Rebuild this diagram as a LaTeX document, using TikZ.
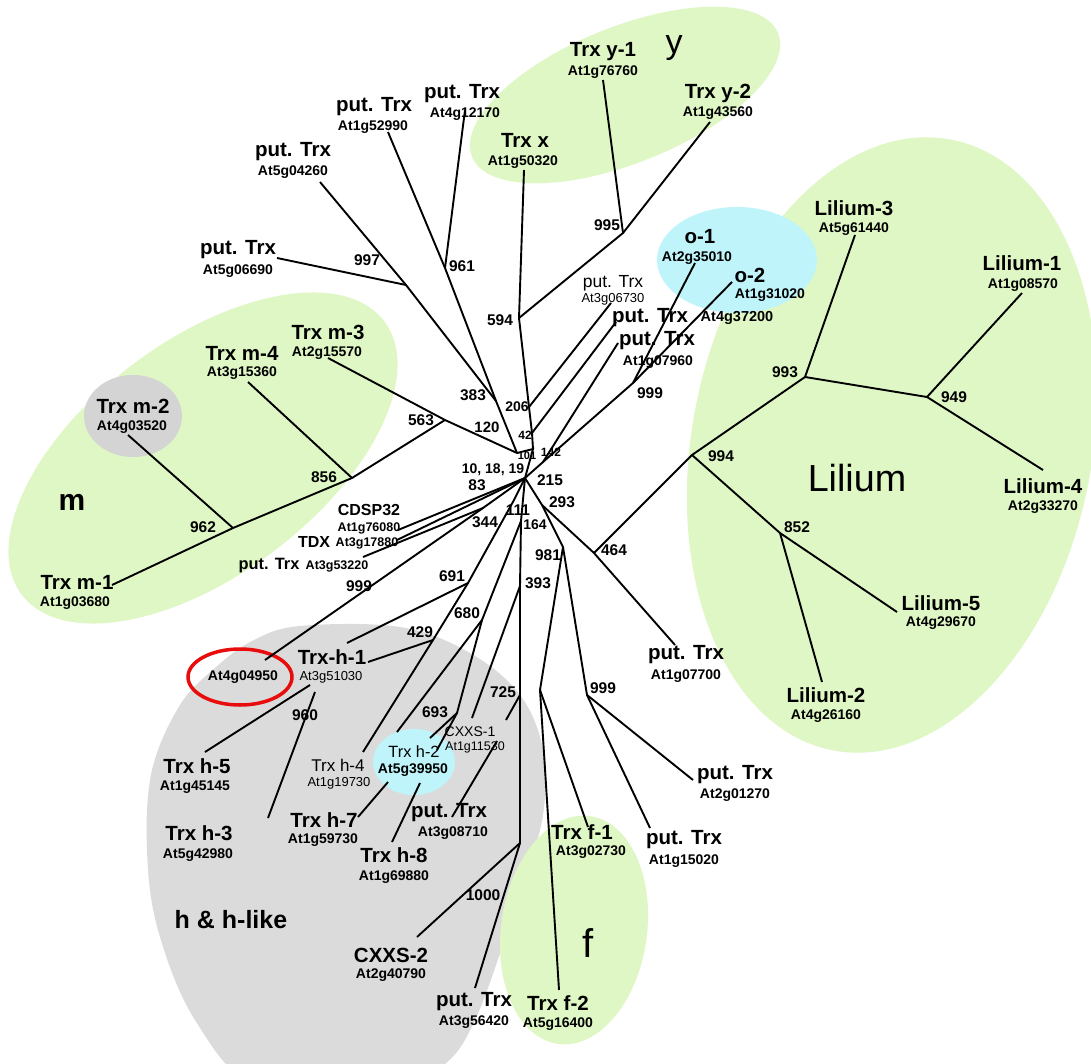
\documentclass[tikz,border=0pt]{standalone}
\usepackage{fontspec}
\setmainfont{Liberation Sans}
\begin{document}
\begin{tikzpicture}[x=1pt,y=-1pt]
\definecolor{lgreen}{RGB}{223,247,196}
\definecolor{lcyan}{RGB}{190,244,250}
\definecolor{lgray}{RGB}{219,219,219}
\definecolor{mgray}{RGB}{212,212,212}
\definecolor{redc}{RGB}{232,12,12}
\tikzset{
 br/.style={line width=1.9pt},
 nm/.style={inner sep=0pt, font=\bfseries\fontsize{20.5}{22}\selectfont},
 nmr/.style={inner sep=0pt, font=\fontsize{17}{19}\selectfont},
 ac/.style={inner sep=0pt, font=\bfseries\fontsize{14}{16}\selectfont},
 acr/.style={inner sep=0pt, font=\fontsize{13}{15}\selectfont},
 bs/.style={inner sep=0pt, font=\bfseries\fontsize{15.5}{17}\selectfont},
 bss/.style={inner sep=0pt, font=\bfseries\fontsize{13}{15}\selectfont},
}
\useasboundingbox (0,0) rectangle (1091,1064);
\clip (0,0) rectangle (1091,1064);
\fill[white] (0,0) rectangle (1091,1064);
% ---- background groups
\fill[lgray] plot[smooth cycle, tension=0.6] coordinates {(300,626) (400,627) (470,653) (520,695) (543,750) (543,815) (523,885) (503,945) (475,1020) (445,1064) (380,1100) (260,1090) (195,1020) (158,930) (147,850) (152,770) (180,705) (215,668) (252,641)};
\fill[lgreen, shift={(574,930)}, rotate=-8] (0,0) ellipse [x radius=73, y radius=115];
\fill[lgreen, shift={(625,95)}, rotate=22] (0,0) ellipse [x radius=165, y radius=68];
\fill[lgreen, shift={(892,445)}, rotate=-11] (0,0) ellipse [x radius=200, y radius=311];
\fill[lcyan] (737,260) ellipse [x radius=80, y radius=53];
\fill[lgreen, shift={(203,458)}, rotate=37] (0,0) ellipse [x radius=227, y radius=117];
\fill[mgray] (133,416) ellipse [x radius=49, y radius=41];
\fill[lcyan] (414,762) ellipse [x radius=41, y radius=33];
\draw[redc, line width=3.5pt] (240,677) ellipse [x radius=52, y radius=28];

% ---- group labels
\node[inner sep=0pt, font=\fontsize{34}{36}\selectfont] (gy) at (674,48) {y};
\node[inner sep=0pt, font=\bfseries\fontsize{30}{32}\selectfont] (gm) at (72,502) {m};
\node[inner sep=0pt, font=\fontsize{37.7}{40}\selectfont] (gl) at (857,478) {Lilium};
\node[inner sep=0pt, font=\fontsize{40}{42}\selectfont] (gf) at (588,943) {f};
\node[inner sep=0pt, font=\bfseries\fontsize{25}{27}\selectfont] (gh) at (231,920) {h \& h-like};

% ---- leaf labels
\node[nm] (a1) at (374,107) {put. Trx}; \node[ac] (a1a) at (373,127) {At1g52990};
\node[nm] (a2) at (462,94) {put. Trx}; \node[ac] (a2a) at (465,114) {At4g12170};
\node[nm] (a3) at (293,152) {put. Trx}; \node[ac] (a3a) at (293,172) {At5g04260};
\node[nm] (a4) at (238,250) {put. Trx}; \node[ac] (a4a) at (238,271) {At5g06690};
\node[nm] (lx) at (525,140) {Trx x}; \node[ac] (lxa) at (523,162) {At1g50320};
\node[nm] (ly1) at (603,52) {Trx y-1}; \node[ac] (ly1a) at (603,72) {At1g76760};
\node[nm] (ly2) at (718,93) {Trx y-2}; \node[ac] (ly2a) at (718,113) {At1g43560};
\node[nm] (lo1) at (700,237) {o-1}; \node[ac] (lo1a) at (697,258) {At2g35010};
\node[nm] (lo2) at (750,275) {o-2}; \node[ac] (lo2a) at (770,295) {At1g31020};
\node[inner sep=0pt, font=\fontsize{17.5}{19}\selectfont] (a5) at (613,283) {put. Trx};
\node[acr] (a5a) at (613,299) {At3g06730};
\node[nm] (a6) at (650,318) {put. Trx}; \node[ac, font=\bfseries\fontsize{14.5}{16}\selectfont] (a6a) at (737,318) {At4g37200};
\node[nm] (a7) at (657,341) {put. Trx}; \node[ac] (a7a) at (658,362) {At1g07960};
\node[nm] (ll3) at (854,208) {Lilium-3}; \node[ac] (ll3a) at (854,229) {At5g61440};
\node[nm] (ll1) at (1022,263) {Lilium-1}; \node[ac] (ll1a) at (1023,285) {At1g08570};
\node[nm] (ll4) at (1043,486) {Lilium-4}; \node[ac] (ll4a) at (1043,507) {At2g33270};
\node[nm] (ll5) at (941,603) {Lilium-5}; \node[ac] (ll5a) at (941,623) {At4g29670};
\node[nm] (ll2) at (826,695) {Lilium-2}; \node[ac] (ll2a) at (826,716) {At4g26160};
\node[nm] (a8) at (686,655) {put. Trx}; \node[ac] (a8a) at (686,676) {At1g07700};
\node[nm] (a9) at (735,775) {put. Trx}; \node[ac] (a9a) at (735,795) {At2g01270};
\node[nm] (a10) at (684,840) {put. Trx}; \node[ac] (a10a) at (684,861) {At1g15020};
\node[nm] (lf1) at (582,832) {Trx f-1}; \node[ac] (lf1a) at (591,852) {At3g02730};
\node[nm] (lf2) at (558,1003) {Trx f-2}; \node[ac] (lf2a) at (558,1024) {At5g16400};
\node[nm] (a11) at (474,1002) {put. Trx}; \node[ac] (a11a) at (474,1022) {At3g56420};
\node[nm] (lc2) at (391,955) {CXXS-2}; \node[ac] (lc2a) at (391,975) {At2g40790};
\node[nm] (lh8) at (394,855) {Trx h-8}; \node[ac] (lh8a) at (394,877) {At1g69880};
\node[nm] (lh7) at (324,820) {Trx h-7}; \node[ac] (lh7a) at (323,840) {At1g59730};
\node[nm] (a12) at (449,813) {put. Trx}; \node[ac] (a12a) at (453,833) {At3g08710};
\node[nm] (lh5) at (197,766) {Trx h-5}; \node[ac] (lh5a) at (195,787) {At1g45145};
\node[nm] (lh3) at (199,833) {Trx h-3}; \node[ac] (lh3a) at (198,855) {At5g42980};
\node[nmr] (lh4) at (338,765) {Trx h-4}; \node[acr] (lh4a) at (339,783) {At1g19730};
\node[inner sep=0pt, font=\fontsize{16.3}{18}\selectfont] (lh2) at (414,752) {Trx h-2};
\node[ac] (lh2a) at (413,770) {At5g39950};
\node[inner sep=0pt, font=\fontsize{14}{16}\selectfont] (lc1) at (470,732) {CXXS-1};
\node[acr, font=\fontsize{12.5}{14}\selectfont] (lc1a) at (475,747) {At1g11530};
\node[ac] (lred) at (243,677) {At4g04950};
\node[nm] (lh1) at (332,657) {Trx-h-1}; \node[acr, font=\fontsize{13}{15}\selectfont] (lh1a) at (331,677) {At3g51030};
\node[nm] (lm2) at (133,406) {Trx m-2}; \node[ac] (lm2a) at (132,427) {At4g03520};
\node[nm] (lm4) at (242,353) {Trx m-4}; \node[ac] (lm4a) at (242,373) {At3g15360};
\node[nm] (lm3) at (328,332) {Trx m-3}; \node[ac] (lm3a) at (327,353) {At2g15570};
\node[nm] (lm1) at (77,582) {Trx m-1}; \node[ac] (lm1a) at (75,603) {At1g03680};
\node[inner sep=0pt, font=\bfseries\fontsize{16}{18}\selectfont] (lcd) at (369,510) {CDSP32};
\node[inner sep=0pt, font=\bfseries\fontsize{12.5}{14}\selectfont] (lcda) at (369,528) {At1g76080};
\node[inner sep=0pt, font=\bfseries\fontsize{16}{18}\selectfont] (ltdx) at (314,542) {TDX};
\node[inner sep=0pt, font=\bfseries\fontsize{12.5}{14}\selectfont] (ltdxa) at (367,543) {At3g17880};
\node[inner sep=0pt, font=\bfseries\fontsize{16.4}{18}\selectfont] (a13) at (269,566) {put. Trx};
\node[inner sep=0pt, font=\bfseries\fontsize{12.5}{14}\selectfont] (a13a) at (337,566) {At3g53220};

% ---- bootstrap values
\node[bs] (b997) at (367,260) {997};
\node[bs] (b961) at (462,266) {961};
\node[bs] (b594) at (500,320) {594};
\node[bs] (b995) at (607,225) {995};
\node[bs] (b999o) at (650,393) {999};
\node[bs] (b993) at (785,372) {993};
\node[bs] (b949) at (954,397) {949};
\node[bs] (b994) at (721,456) {994};
\node[bs] (b852) at (797,527) {852};
\node[bs] (b464) at (614,550) {464};
\node[bs] (b999b) at (603,688) {999};
\node[bs] (b1000) at (483,895) {1000};
\node[bs] (b429) at (420,632) {429};
\node[bs] (b680) at (467,613) {680};
\node[bs] (b725) at (503,692) {725};
\node[bs] (b693) at (435,712) {693};
\node[bs] (b960) at (305,715) {960};
\node[bs] (b563) at (421,420) {563};
\node[bs] (b856) at (324,477) {856};
\node[bs] (b962) at (203,527) {962};
\node[bs] (b999c) at (359,586) {999};
\node[bs] (b691) at (452,576) {691};
\node[bs] (b383) at (473,395) {383};
\node[bss, font=\bfseries\fontsize{14}{16}\selectfont] (b206) at (517,407) {206};
\node[bs, font=\bfseries\fontsize{15}{17}\selectfont] (b120) at (487,427) {120};
\node[bss, font=\bfseries\fontsize{12}{14}\selectfont] (b42) at (525,435) {42};
\node[bss, font=\bfseries\fontsize{11}{13}\selectfont] (b101) at (527,456) {101};
\node[bss, font=\bfseries\fontsize{12}{14}\selectfont] (b142) at (551,452) {142};
\node[bss, font=\bfseries\fontsize{14}{16}\selectfont] (b101819) at (493,470) {10, 18, 19};
\node[bs] (b83) at (477,485) {83};
\node[bs] (b215) at (550,480) {215};
\node[bs] (b293) at (562,502) {293};
\node[bs] (b344) at (485,522) {344};
\node[bs] (b111) at (518,510) {111};
\node[bss, font=\bfseries\fontsize{14}{16}\selectfont] (b164) at (535,525) {164};
\node[bs] (b981) at (548,555) {981};
\node[bs] (b393) at (538,583) {393};

% ---- internal nodes
\coordinate (L) at (525,478);
\coordinate (Hup) at (517,453);
\coordinate (P101) at (533,449);
\coordinate (n42) at (532,433);
\coordinate (n206) at (529,407);
\coordinate (n594) at (519,318);
\coordinate (n995) at (623,233);
\coordinate (n383) at (496,401);
\coordinate (n997) at (406,285);
\coordinate (n961) at (445,268);
\coordinate (n563) at (445,420);
\coordinate (n856) at (352,478);
\coordinate (n962) at (233,528);
\coordinate (n142) at (543,462);
\coordinate (n999o) at (633,383);
\coordinate (n344) at (483,508);
\coordinate (n111) at (514,500);
\coordinate (n691) at (468,583);
\coordinate (n429) at (433,640);
\coordinate (n164) at (521,521);
\coordinate (n680) at (482,620);
\coordinate (n693) at (457,713);
\coordinate (n393) at (520,586);
\coordinate (n725) at (520,695);
\coordinate (n1000) at (520,843);
\coordinate (n293) at (542,505);
\coordinate (n981) at (563,547);
\coordinate (nf) at (540,690);
\coordinate (n999b) at (587,695);
\coordinate (n464) at (594,553);
\coordinate (n994) at (692,455);
\coordinate (n993) at (805,377);
\coordinate (n949) at (927,397);
\coordinate (n852) at (780,533);
% ---- leaf tips
\coordinate (tx) at (524,170);
\coordinate (ty1) at (603,80);
\coordinate (ty2) at (710,122);
\coordinate (t04260) at (320,182);
\coordinate (t06690) at (277,258);
\coordinate (t52990) at (388,132);
\coordinate (t12170) at (465,110);
\coordinate (t06730) at (611,303);
\coordinate (t37200) at (616,322);
\coordinate (t07960) at (618,343);
\coordinate (to1) at (695,263);
\coordinate (to2) at (732,282);
\coordinate (tm3) at (328,358);
\coordinate (tm4) at (248,382);
\coordinate (tm2) at (128,435);
\coordinate (tm1) at (112,585);
\coordinate (tcdsp) at (398,530);
\coordinate (ttdx) at (397,540);
\coordinate (t53220) at (363,557);
\coordinate (t04950) at (265,660);
\coordinate (th1) at (347,643);
\coordinate (th1b) at (368,662);
\coordinate (h5a) at (310,685);
\coordinate (h5b) at (205,752);
\coordinate (h3a) at (315,692);
\coordinate (h3b) at (268,818);
\coordinate (th4) at (363,752);
\coordinate (th2) at (397,732);
\coordinate (h7a) at (430,738);
\coordinate (h8a) at (437,750);
\coordinate (h7b) at (388,782);
\coordinate (h7c) at (358,817);
\coordinate (h8b) at (420,783);
\coordinate (h8c) at (392,842);
\coordinate (tcx1) at (472,718);
\coordinate (t08710a) at (506,720);
\coordinate (t08710b) at (497,741);
\coordinate (t08710c) at (452,817);
\coordinate (tcx2) at (417,937);
\coordinate (t56420) at (475,988);
\coordinate (tf1) at (588,827);
\coordinate (tf2) at (559,990);
\coordinate (t01270) at (693,780);
\coordinate (t15020) at (650,828);
\coordinate (t07700) at (675,645);
\coordinate (tl3) at (855,235);
\coordinate (tl1) at (1022,293);
\coordinate (tl4) at (1043,470);
\coordinate (tl5) at (897,612);
\coordinate (tl2) at (822,682);

% ---- branches
\draw[br] (Hup) -- (P101) -- (L);
\draw[br] (P101) -- (n42) -- (n206) -- (n594) -- (tx);
\draw[br] (n594) -- (n995) -- (ty1);
\draw[br] (n995) -- (ty2);
\draw[br] (n206) -- (t06730);
\draw[br] (n42) -- (t37200);
\draw[br] (Hup) -- (n383) -- (n997) -- (t04260);
\draw[br] (n997) -- (t06690);
\draw[br] (n383) -- (n961) -- (t52990);
\draw[br] (n961) -- (t12170);
\draw[br] (Hup) -- (n563) -- (tm3);
\draw[br] (n563) -- (n856) -- (n962) -- (tm1);
\draw[br] (n856) -- (tm4);
\draw[br] (n962) -- (tm2);
\draw[br] (L) -- (n142) -- (t07960);
\draw[br] (n142) -- (n999o) -- (to1);
\draw[br] (n999o) -- (to2);
\draw[br] (L) -- (tcdsp);
\draw[br] (L) -- (ttdx);
\draw[br] (L) -- (n344) -- (t53220);
\draw[br] (n344) -- (t04950);
\draw[br] (L) -- (n111) -- (n691) -- (th1);
\draw[br] (n691) -- (n429) -- (th4);
\draw[br] (n429) -- (th1b);
\draw[br] (h5a) -- (h5b);
\draw[br] (h3a) -- (h3b);
\draw[br] (L) -- (n164) -- (n393) -- (n725) -- (n1000);
\draw[br] (n164) -- (n680) -- (th2);
\draw[br] (n680) -- (n693) -- (h7a);
\draw[br] (n693) -- (h8a);
\draw[br] (h7b) -- (h7c);
\draw[br] (h8b) -- (h8c);
\draw[br] (n393) -- (tcx1);
\draw[br] (n725) -- (t08710a);
\draw[br] (t08710b) -- (t08710c);
\draw[br] (n1000) -- (tcx2);
\draw[br] (n1000) -- (t56420);
\draw[br] (L) -- (n293) -- (n981) -- (nf) -- (tf1);
\draw[br] (nf) -- (tf2);
\draw[br] (n981) -- (n999b) -- (t01270);
\draw[br] (n999b) -- (t15020);
\draw[br] (n293) -- (n464) -- (t07700);
\draw[br] (n464) -- (n994) -- (n993) -- (tl3);
\draw[br] (n993) -- (n949) -- (tl1);
\draw[br] (n949) -- (tl4);
\draw[br] (n994) -- (n852) -- (tl5);
\draw[br] (n852) -- (tl2);
\end{tikzpicture}
\end{document}
